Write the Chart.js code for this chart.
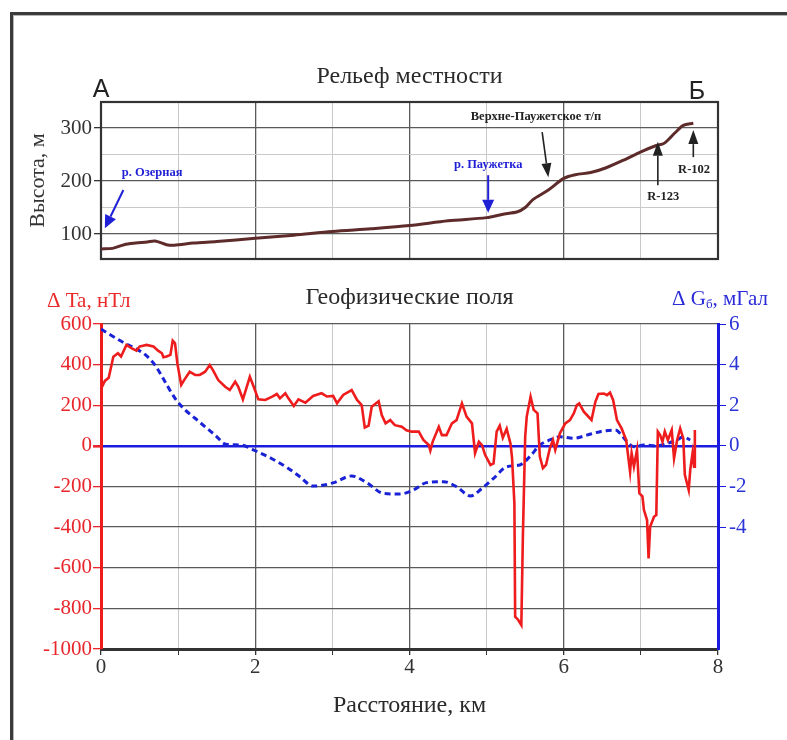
<!DOCTYPE html>
<html><head><meta charset="utf-8">
<script src="https://cdn.jsdelivr.net/npm/chart.js@4.4.0/dist/chart.umd.min.js"></script>
<style>
html,body{margin:0;padding:0;background:#fff;}
body{width:787px;height:740px;position:relative;overflow:hidden;}
#frame{position:absolute;left:10px;top:12px;width:900px;height:900px;border-left:3px solid #3b3b3b;border-top:3px solid #3b3b3b;}
#frame2{position:absolute;left:13px;top:15px;width:900px;height:900px;border-left:1px solid #b5b5b5;border-top:1px solid #b5b5b5;}
#c1{position:absolute;left:0;top:0;width:787px;height:275px;}
#c2{position:absolute;left:0;top:275px;width:787px;height:465px;}
</style></head><body>
<div id="frame"></div><div id="frame2"></div>
<canvas id="c1" width="787" height="275"></canvas>
<canvas id="c2" width="787" height="465"></canvas>
<script>
// ---------- DATA ----------
const reliefDist   = [0, 0.15, 0.3, 0.45, 0.6, 0.7, 0.85, 0.95, 1.2, 1.5, 2.0, 2.5, 3.0, 3.5, 4.0, 4.5, 5.0, 5.2, 5.4, 5.5, 5.6, 5.8, 6.0, 6.15, 6.35, 6.55, 6.8, 7.0, 7.2, 7.3, 7.45, 7.55, 7.68];
const reliefHeight = [72, 73, 80, 83, 85, 87, 80, 79, 83, 86, 92, 98, 105, 110, 116, 125, 131, 137, 142, 150, 165, 183, 205, 212, 216, 225, 241, 255, 267, 271, 292, 305, 309];

const taDist = [0.00,0.05,0.10,0.16,0.22,0.26,0.33,0.40,0.46,0.50,0.59,0.68,0.74,0.79,0.81,0.85,0.90,0.93,0.96,0.99,
1.04,1.08,1.15,1.22,1.28,1.35,1.41,1.45,1.52,1.61,1.67,1.74,1.78,1.84,1.89,1.93,1.98,2.04,2.13,2.22,
2.28,2.32,2.39,2.43,2.50,2.56,2.65,2.75,2.86,2.93,3.01,3.06,3.14,3.25,3.32,3.38,3.42,3.47,3.51,3.60,
3.64,3.69,3.75,3.81,3.90,3.96,4.03,4.12,4.18,4.25,4.27,4.30,4.38,4.42,4.48,4.55,4.61,4.68,4.74,4.81,
4.85,4.90,4.94,4.98,5.05,5.09,5.13,5.17,5.21,5.26,5.31,5.33,5.36,5.37,5.41,5.45,5.47,5.50,5.52,5.57,
5.61,5.66,5.69,5.73,5.77,5.82,5.86,5.89,5.95,6.02,6.08,6.13,6.17,6.20,6.26,6.30,6.36,6.41,6.45,6.52,
6.56,6.60,6.64,6.69,6.75,6.81,6.86,6.88,6.91,6.95,6.98,7.02,7.04,7.08,7.10,7.12,7.17,7.20,7.22,7.25,
7.28,7.31,7.35,7.40,7.43,7.47,7.51,7.55,7.57,7.62,7.64,7.67,7.69,7.70];
const taValues = [280,320,335,439,456,440,497,480,469,489,497,489,469,456,436,440,448,518,505,406,
300,325,365,349,349,365,398,374,324,291,275,316,291,229,291,340,291,229,226,242,
255,234,259,234,196,229,213,246,259,243,246,210,251,275,226,201,90,100,193,220,
152,111,127,102,94,77,70,70,29,4,-23,20,94,53,53,111,127,209,144,111,
-36,20,4,-44,-94,-86,70,100,40,84,10,-60,-283,-841,-857,-882,-447,45,144,242,
177,160,-53,-110,-94,-12,29,-20,62,111,127,160,201,209,168,152,127,217,255,258,
250,262,226,127,86,29,-127,-36,-102,-20,-233,-249,-316,-365,-554,-398,-349,-341,70,53,
20,70,29,78,-61,29,86,37,-143,-217,-118,-36,-102,78];

const gDist   = [0.00,0.09,0.31,0.44,0.57,0.70,0.83,0.96,1.09,1.22,1.35,1.48,1.62,1.82,2.00,2.21,2.43,2.58,2.75,3.01,
3.25,3.45,3.66,3.88,4.05,4.22,4.44,4.61,4.79,4.94,5.09,5.26,5.43,5.56,5.69,5.82,5.95,6.13,6.30,6.47,
6.67,6.73,6.82,6.91,7.04,7.21,7.34,7.47,7.55,7.64];
const gValues = [5.75,5.54,5.05,4.81,4.50,3.98,3.16,2.34,1.77,1.36,0.94,0.53,0.08,0.04,-0.24,-0.62,-1.11,-1.52,-1.98,-1.82,
-1.48,-1.82,-2.34,-2.37,-2.17,-1.81,-1.76,-2.01,-2.47,-2.09,-1.60,-1.03,-0.94,-0.53,0.04,0.29,0.45,0.37,0.53,0.70,
0.78,0.62,0.21,-0.04,0.04,0.00,0.12,0.29,0.45,0.29];

const xTickValues      = [0,1,2,3,4,5,6,7,8];
const reliefTickValues = [100,150,200,250,300];
const gLabelValues     = [6,4,2,0,-2,-4];

// annotation texts (positions in data units)
const reliefNotes = [
  {text:'р. Озерная', color:'#1f1fd6', tx:0.27, ty:215, align:'left', from:[0.29,183], to:[0.05,111]},
  {text:'р. Паужетка', color:'#1f1fd6', tx:5.02, ty:230, align:'center', from:[5.02,211], to:[5.02,140]},
  {text:'Верхне-Паужетское т/п', color:'#222', tx:5.64, ty:321, align:'center', from:[5.72,292], to:[5.80,207]},
  {text:'R-123', color:'#222', tx:7.29, ty:170, align:'center', from:[7.22,192], to:[7.22,274]},
  {text:'R-102', color:'#222', tx:7.69, ty:221, align:'center', from:[7.68,245], to:[7.68,296]}
];

// ---------- STYLE ----------
const SERIF = "'Liberation Serif','Times New Roman',serif";
const SANS = "'Liberation Sans',Arial,sans-serif";
const DARK_GRID = '#5a5a5a', LIGHT_GRID = '#c9c9c9';
const RED = '#ee1c1c', BLUE = '#1c1cde';

function xGridColor(ctx, edges){
  const v = ctx.tick ? ctx.tick.value : 0;
  if (!edges && (v === 0 || v === 8)) return 'rgba(0,0,0,0)';
  return v % 2 === 0 ? DARK_GRID : LIGHT_GRID;
}

function arrow(ctx, x1, y1, x2, y2, color, w, head, hw){
  const ang = Math.atan2(y2 - y1, x2 - x1);
  const bx = x2 - head * Math.cos(ang), by = y2 - head * Math.sin(ang);
  ctx.strokeStyle = color; ctx.fillStyle = color; ctx.lineWidth = w;
  ctx.beginPath(); ctx.moveTo(x1, y1); ctx.lineTo(bx, by); ctx.stroke();
  ctx.beginPath();
  ctx.moveTo(x2, y2);
  ctx.lineTo(bx + hw * Math.sin(ang), by - hw * Math.cos(ang));
  ctx.lineTo(bx - hw * Math.sin(ang), by + hw * Math.cos(ang));
  ctx.closePath(); ctx.fill();
}

const reliefPlugin = {
  id: 'reliefPlugin',
  beforeDatasetsDraw(chart){
    const {ctx, chartArea:a} = chart;
    ctx.save();
    ctx.strokeStyle = '#333'; ctx.lineWidth = 2.2;
    ctx.strokeRect(a.left, a.top, a.right - a.left, a.bottom - a.top);
    ctx.restore();
  },
  afterDatasetsDraw(chart){
    const {ctx, scales:{x, y}, chartArea:a} = chart;
    ctx.save();
    reliefNotes.forEach(n => {
      ctx.font = 'bold 12.5px ' + SERIF;
      ctx.fillStyle = n.color;
      ctx.textAlign = n.align; ctx.textBaseline = 'middle';
      ctx.fillText(n.text, x.getPixelForValue(n.tx), y.getPixelForValue(n.ty));
      const blue = n.color !== '#222';
      arrow(ctx, x.getPixelForValue(n.from[0]), y.getPixelForValue(n.from[1]),
                 x.getPixelForValue(n.to[0]), y.getPixelForValue(n.to[1]),
                 n.color, blue ? 2 : 1.6, blue ? 13 : 14, blue ? 6 : 5);
    });
    ctx.font = '25px ' + SANS; ctx.fillStyle = '#222';
    ctx.textAlign = 'center'; ctx.textBaseline = 'alphabetic';
    ctx.fillText('А', a.left, a.top - 5);
    ctx.fillText('Б', a.right - 21, a.top - 3);
    ctx.restore();
  }
};

const geoPlugin = {
  id: 'geoPlugin',
  afterDraw(chart){
    const {ctx} = chart;
    ctx.save();
    ctx.textBaseline = 'middle'; ctx.textAlign = 'left';
    ctx.font = '21px ' + SERIF; ctx.fillStyle = '#ea2a2a';
    ctx.fillText('Δ Ta, нТл', 47, 26);
    ctx.fillStyle = '#2a2ad8';
    let xx = 672;
    ctx.fillText('Δ G', xx, 24); xx += ctx.measureText('Δ G').width;
    ctx.font = '13px ' + SERIF;
    ctx.fillText('б', xx, 30); xx += ctx.measureText('б').width;
    ctx.font = '21px ' + SERIF;
    ctx.fillText(', мГал', xx, 24);
    ctx.restore();
  }
};

// ---------- TOP CHART ----------
new Chart(document.getElementById('c1'), {
  type: 'line',
  data: { datasets: [{
    label: 'Рельеф',
    data: reliefDist.map((d, i) => ({x: d, y: reliefHeight[i]})),
    borderColor: '#5e2b2b', borderWidth: 3, pointRadius: 0, tension: 0.3, fill: false
  }]},
  options: {
    responsive: false, animation: false, devicePixelRatio: 1,
    layout: { padding: {left: 0, right: 69, top: 0, bottom: 0} },
    plugins: {
      legend: {display: false}, tooltip: {enabled: false},
      title: { display: true, text: 'Рельеф местности', fullSize: false, color: '#2a2a2a',
               font: {family: SERIF, size: 24, weight: 'normal'}, padding: {top: 62.6, bottom: 10.6} }
    },
    scales: {
      x: { type: 'linear', min: 0, max: 8,
           afterBuildTicks: s => { s.ticks = xTickValues.map(v => ({value: v})); },
           ticks: {display: false},
           grid: { color: c => xGridColor(c, false), lineWidth: c => (c.tick && c.tick.value % 2 === 0) ? 1.3 : 1, drawTicks: false },
           border: {display: false},
           afterFit: s => { s.height = 16; } },
      y: { min: 53, max: 349,
           afterBuildTicks: s => { s.ticks = reliefTickValues.map(v => ({value: v})); },
           ticks: { callback: v => (v % 100 === 0 ? v : ''), color: '#333', font: {family: SERIF, size: 21}, padding: 2 },
           grid: { color: c => (c.tick && c.tick.value % 100 === 0) ? DARK_GRID : LIGHT_GRID,
                   lineWidth: c => (c.tick && c.tick.value % 100 === 0) ? 1.3 : 1,
                   tickLength: 7, tickColor: c => (c.tick && c.tick.value % 100 === 0) ? '#333' : 'rgba(0,0,0,0)' },
           border: {display: false},
           title: { display: true, text: 'Высота, м', color: '#333', font: {family: SERIF, size: 22}, padding: {top: 25, bottom: 0} },
           afterFit: s => { s.width = 101; } }
    }
  },
  plugins: [reliefPlugin]
});

// ---------- BOTTOM CHART ----------
new Chart(document.getElementById('c2'), {
  type: 'line',
  data: { datasets: [
    { label: 'ΔTa', yAxisID: 'yT',
      data: taDist.map((d, i) => ({x: d, y: taValues[i]})),
      borderColor: RED, borderWidth: 2.6, pointRadius: 0, tension: 0, fill: false },
    { label: 'ΔG', yAxisID: 'yG',
      data: gDist.map((d, i) => ({x: d, y: gValues[i]})),
      borderColor: '#1a22d6', borderWidth: 3, borderDash: [6, 4], pointRadius: 0,
      cubicInterpolationMode: 'monotone', fill: false }
  ]},
  options: {
    responsive: false, animation: false, devicePixelRatio: 1,
    layout: { padding: {left: 0, right: 0, top: 0, bottom: 0} },
    plugins: {
      legend: {display: false}, tooltip: {enabled: false},
      title: { display: true, text: 'Геофизические поля', fullSize: false, color: '#2a2a2a',
               font: {family: SERIF, size: 24, weight: 'normal'}, padding: {top: 8.6, bottom: 11.6} }
    },
    scales: {
      x: { type: 'linear', min: 0, max: 8,
           afterBuildTicks: s => { s.ticks = xTickValues.map(v => ({value: v})); },
           ticks: { callback: v => (v % 2 === 0 ? v : ''), color: '#333', font: {family: SERIF, size: 21}, padding: 0, maxRotation: 0 },
           grid: { color: c => xGridColor(c, false), lineWidth: c => (c.tick && c.tick.value % 2 === 0) ? 1.3 : 1,
                   tickLength: 6, tickColor: '#333' },
           border: {color: '#333', width: 3},
           title: { display: true, text: 'Расстояние, км', color: '#2a2a2a', font: {family: SERIF, size: 24}, padding: {top: 0, bottom: 20} },
           afterFit: s => { s.height = 91; } },
      yT: { position: 'left', min: -1000, max: 600,
            ticks: { stepSize: 100, callback: v => (v % 200 === 0 ? v : ''), color: '#e8262b', font: {family: SERIF, size: 21}, padding: 1 },
            grid: { color: c => { const v = c.tick ? c.tick.value : 1; return v === 0 ? BLUE : (v % 200 === 0 ? DARK_GRID : LIGHT_GRID); },
                    lineWidth: c => { const v = c.tick ? c.tick.value : 1; return v === 0 ? 2.6 : (v % 200 === 0 ? 1.3 : 1); },
                    tickLength: 8, tickColor: c => (c.tick && c.tick.value % 200 === 0) ? '#e8262b' : 'rgba(0,0,0,0)' },
            border: {color: RED, width: 3},
            afterFit: s => { s.width = 101; } },
      yG: { position: 'right', min: -10, max: 6,
            ticks: { stepSize: 2, callback: v => (gLabelValues.includes(v) ? v : ''), color: '#2b35d6', font: {family: SERIF, size: 21}, padding: 3 },
            grid: { drawOnChartArea: false, tickLength: 8,
                    tickColor: c => (c.tick && gLabelValues.includes(c.tick.value)) ? BLUE : 'rgba(0,0,0,0)' },
            border: {color: BLUE, width: 3},
            afterFit: s => { s.width = 69; } }
    }
  },
  plugins: [geoPlugin]
});
</script>
</body></html>
